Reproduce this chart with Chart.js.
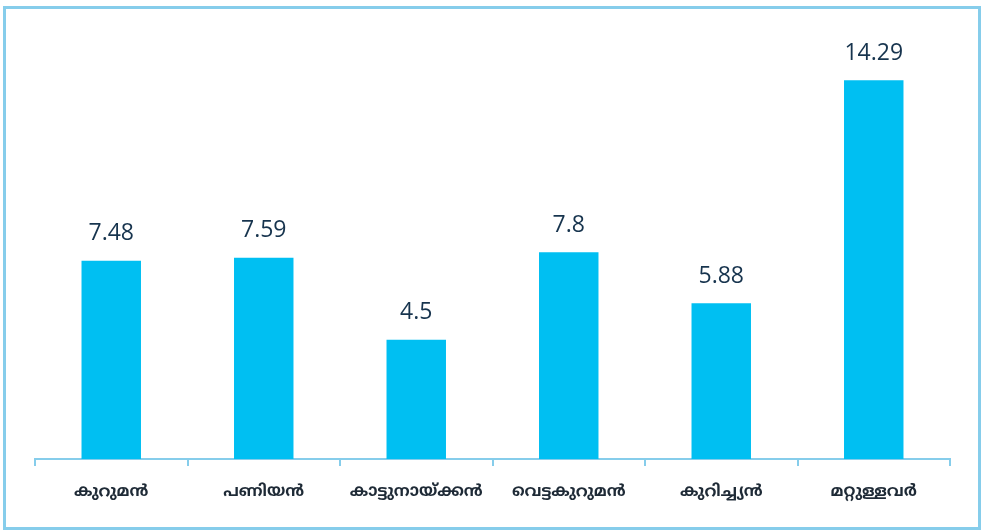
<!DOCTYPE html>
<html>
<head>
<meta charset="utf-8">
<script src="https://cdn.jsdelivr.net/npm/chart.js@4.4.1/dist/chart.umd.min.js"></script>
<style>
  html, body { margin: 0; padding: 0; background: #ffffff; }
  #wrap { position: relative; width: 982px; height: 530px; overflow: hidden; }
  #frame { position: absolute; left: 3px; top: 6px; width: 972px; height: 518px; border: 3px solid #86CDEB; }
  canvas { position: absolute; left: 0; top: 0; }
</style>
</head>
<body>
<div id="wrap">
  <div id="frame"></div>
  <canvas id="chart" width="982" height="530"></canvas>
</div>
<script>
const categories = ['കുറുമൻ', 'പണിയൻ', 'കാട്ടുനായ്ക്കൻ', 'വെട്ടകുറുമൻ', 'കുറിച്ച്യൻ', 'മറ്റുള്ളവർ'];
const values = [7.48, 7.59, 4.5, 7.8, 5.88, 14.29];

// draws the value above each bar
const valueLabels = {
    id: 'valueLabels',
    afterDatasetsDraw(chart) {
        const ctx = chart.ctx;
        const meta = chart.getDatasetMeta(0);
        ctx.save();
        ctx.fillStyle = '#17344E';
        ctx.font = '23px "Open Sans", "Liberation Sans", sans-serif';
        ctx.textAlign = 'center';
        ctx.textBaseline = 'middle';
        meta.data.forEach((bar, i) => {
            ctx.fillText(String(values[i]), bar.x, bar.y - 27);
        });
        ctx.restore();
    }
};

const ctx = document.getElementById('chart').getContext('2d');
new Chart(ctx, {
    type: 'bar',
    data: {
        labels: categories,
        datasets: [{
            data: values,
            backgroundColor: '#00BFF2',
            barPercentage: 0.78,
            categoryPercentage: 0.5
        }]
    },
    options: {
        responsive: false,
        animation: false,
        layout: { padding: { left: 35, right: 32, top: 35, bottom: 0 } },
        plugins: {
            legend: { display: false },
            tooltip: { enabled: false }
        },
        scales: {
            y: { display: false, min: 0, max: 16 },
            x: {
                afterFit(scale) { scale.height = 71; },
                border: { display: true, color: '#86CDEB', width: 2 },
                grid: {
                    offset: true,
                    drawOnChartArea: false,
                    drawTicks: true,
                    tickLength: 7,
                    color: '#86CDEB',
                    lineWidth: 2
                },
                ticks: {
                    color: '#1E2A36',
                    padding: 17,
                    font: { size: 16, weight: 'bold', family: '"Noto Sans Malayalam", "Noto Sans", sans-serif' }
                }
            }
        }
    },
    plugins: [valueLabels]
});
</script>
</body>
</html>
